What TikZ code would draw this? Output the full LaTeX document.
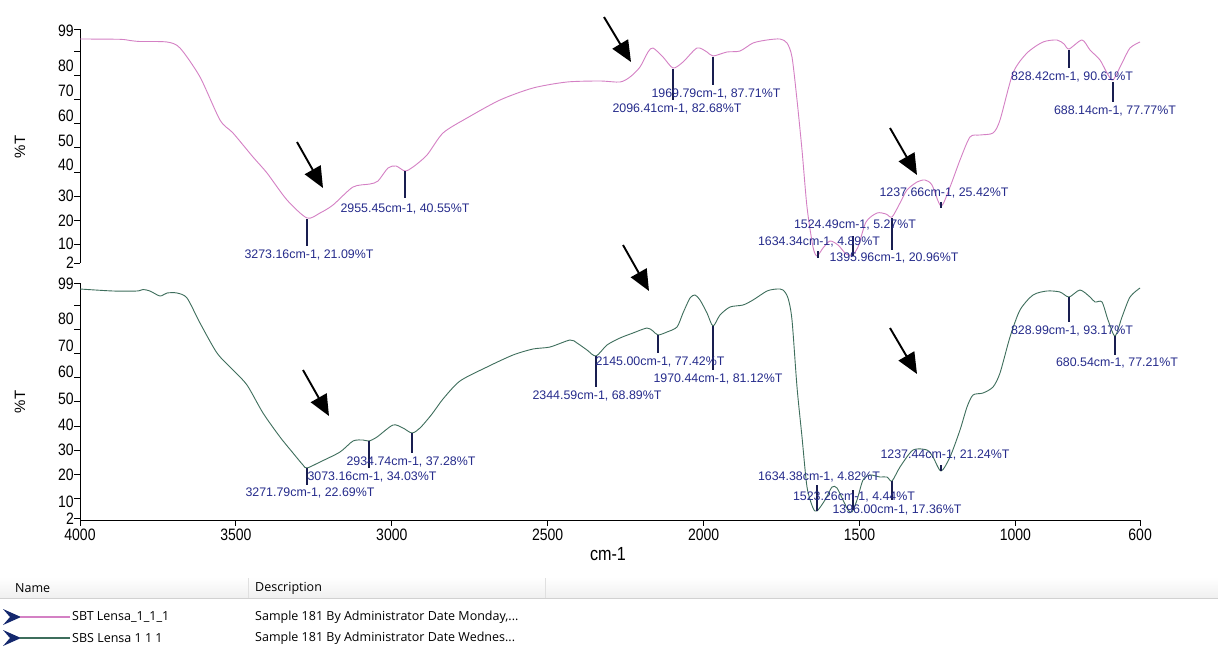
\documentclass[tikz,border=0pt]{standalone}
\usepackage{fontspec}
\usetikzlibrary{arrows.meta}
\setmainfont{Liberation Sans}
\newfontfamily\axf[FakeStretch=0.85]{Liberation Sans}
\newfontfamily\lgf{Open Sans}
\definecolor{pinkc}{RGB}{212,128,196}
\definecolor{greenc}{RGB}{62,110,92}
\definecolor{lblc}{RGB}{38,44,140}
\definecolor{mkc}{RGB}{25,30,80}
\definecolor{chev}{RGB}{20,40,110}
\tikzset{
  spec/.style={line width=0.9pt, line join=round},
  mk/.style={draw=mkc, line width=1.1pt},
  lab/.style={text=lblc, font=\fontsize{12.4}{13}\selectfont, inner sep=0pt},
  tk/.style={font=\axf\fontsize{16.5}{17}\selectfont, inner sep=0pt},
  bigarrow/.style={-{Triangle[length=21pt,width=18pt]}, line width=1.9pt},
  ax/.style={line width=1pt},
  lg/.style={font=\lgf\fontsize{12.5}{14}\selectfont, inner sep=0pt, anchor=west}
}
\begin{document}
\begin{tikzpicture}[x=1pt,y=-1pt]
\useasboundingbox[fill=white] (0,0) rectangle (1218,646);
% ---------- axes ----------
\draw[ax] (80,29) -- (80,263);
\draw[ax] (80,283) -- (80,520) -- (1141,520);
\foreach \v/\y in {99/29.3,90/51,80/75.5,70/99.5,60/123.5,50/147.5,40/172,30/196,20/220,10/244,2/263}
  \draw[ax] (74,\y) -- (80,\y);
\foreach \v/\y in {99/283,90/305,80/329,70/353,60/377,50/401.5,40/426,30/450,20/474,10/498.5,2/518}
  \draw[ax] (74,\y) -- (80,\y);
\foreach \t/\y in {99/31,80/66,70/91,60/116,50/141,40/165,30/196,20/221,10/244,2/263}
  \node[tk,anchor=east] (ty\t) at (74,\y) {\t};
\foreach \t/\y in {99/284,80/319,70/346,60/372,50/399,40/425,30/450,20/475,10/502,2/519}
  \node[tk,anchor=east] (by\t) at (74,\y) {\t};
\foreach \w in {4000,3500,3000,2500,2000,1500,1000,600}{
  \pgfmathsetmacro{\xx}{80+(4000-\w)*0.3118}
  \draw[ax] (\xx,520) -- (\xx,526);
  \node[tk] (xl\w) at (\xx,535) {\w};
}
\node[font=\axf\fontsize{19}{20}\selectfont, inner sep=0pt] (xt) at (608,554) {cm-1};
\node[font=\fontsize{15}{16}\selectfont, rotate=90, inner sep=0pt] (yt1) at (20,147) {\%T};
\node[font=\fontsize{15}{16}\selectfont, rotate=90, inner sep=0pt] (yt2) at (20,402) {\%T};
% ---------- top spectrum ----------
\draw[spec, pinkc] plot[smooth, tension=0.45] coordinates {
(80,39) (120,39.3) (130,40.5) (140,41.5) (167,42) (180,48) (200,77) (220,120) (233,133) (253,157) (267,173) (287,200) (307,218)
(320,213) (333,205) (353,187) (370,184) (378,181) (388,168) (396,166) (405,171) (413,167) (427,155) (443,133) (467,118)
(500,100) (533,88) (567,82) (600,81) (620,82) (630,77) (640,67) (648,52) (653,48) (663,57) (673,68) (683,62) (697,48)
(707,52) (713,56) (727,52) (740,51) (753,43) (767,40) (780,39) (787,43) (792,57) (797,100) (802,150) (807,207) (813,247)
(817,256) (823,248) (830,241) (838,245) (846,254) (852,255) (858,247) (866,222) (877,213) (886,214) (892,217) (900,203)
(907,190) (917,182) (925,180) (932,185) (941,206) (950,187) (960,160) (970,137) (980,135) (993,133) (1000,120) (1013,73)
(1027,53) (1043,42) (1057,40) (1064,44) (1069,49) (1082,40) (1090,50) (1100,60) (1107,73) (1113,80) (1122,63) (1130,48) (1140,42)};
% ---------- bottom spectrum ----------
\draw[spec, greenc] plot[smooth, tension=0.45] coordinates {
(80,289) (113,291) (137,291) (143,289.5) (150,291) (160,296) (167,293) (177,293) (187,298) (200,323) (217,353) (233,370)
(247,385) (263,413) (280,437) (293,453) (303,465) (307,468) (320,462) (340,452) (353,441) (363,440) (369,441) (377,437)
(393,425) (403,428) (412,433) (420,428) (432,414) (443,399) (460,381) (487,367) (513,355) (533,349) (550,347) (570,340)
(577,343) (587,350) (596,356) (607,345) (620,338) (633,333) (647,328) (653,331) (658,335) (667,332) (677,327) (683,313)
(690,298) (695,295) (700,300) (707,313) (713,326) (720,315) (730,307) (743,305) (753,300) (767,291) (777,289) (783,290)
(788,298) (792,320) (797,387) (802,437) (807,487) (813,508) (817,511) (825,500) (832,487) (837,488) (843,500) (848,510)
(852,512) (857,500) (863,480) (870,475) (880,477) (887,477) (892,481) (900,467) (913,450) (927,450) (933,457) (941,471)
(950,457) (960,430) (967,407) (973,395) (983,393) (993,387) (1000,373) (1010,337) (1020,310) (1033,295) (1047,291)
(1060,292) (1069,297) (1080,290) (1090,297) (1095,302) (1102,302) (1108,320) (1115,336) (1122,317) (1130,297) (1140,288)};
% ---------- top peak markers ----------
\draw[mk] (307,219) -- (307,246);
\draw[mk] (405,171) -- (405,198);
\draw[mk] (673,69) -- (673,100);
\draw[mk] (713,57) -- (713,85);
\draw[mk] (818,251) -- (818,258);
\draw[mk] (853,236) -- (853,256);
\draw[mk] (892,218) -- (892,250);
\draw[mk] (941,202) -- (941,208);
\draw[mk] (1069,50) -- (1069,68);
\draw[mk] (1113,82) -- (1113,102);
\node[lab] (t1) at (309,255) {3273.16cm-1, 21.09\%T};
\node[lab] (t2) at (405,209) {2955.45cm-1, 40.55\%T};
\node[lab] (t3) at (677,109) {2096.41cm-1, 82.68\%T};
\node[lab] (t4) at (716,94) {1969.79cm-1, 87.71\%T};
\node[lab] (t5) at (819,242) {1634.34cm-1, 4.89\%T};
\node[lab] (t6) at (855,225) {1524.49cm-1, 5.27\%T};
\node[lab] (t7) at (894,258) {1395.96cm-1, 20.96\%T};
\node[lab] (t8) at (944,193) {1237.66cm-1, 25.42\%T};
\node[lab] (t9) at (1072,77) {828.42cm-1, 90.61\%T};
\node[lab] (t10) at (1115,111) {688.14cm-1, 77.77\%T};
% ---------- bottom peak markers ----------
\draw[mk] (307,468) -- (307,485);
\draw[mk] (369,441) -- (369,468);
\draw[mk] (412,433) -- (412,453);
\draw[mk] (596,356) -- (596,387);
\draw[mk] (658,335) -- (658,353);
\draw[mk] (713,326) -- (713,370);
\draw[mk] (817,485) -- (817,511);
\draw[mk] (853,490) -- (853,510);
\draw[mk] (892,481) -- (892,500);
\draw[mk] (941,465) -- (941,471);
\draw[mk] (1069,297) -- (1069,322);
\draw[mk] (1115,336) -- (1115,355);
\node[lab] (b1) at (310,493) {3271.79cm-1, 22.69\%T};
\node[lab] (b2) at (372,477) {3073.16cm-1, 34.03\%T};
\node[lab] (b3) at (411,462) {2934.74cm-1, 37.28\%T};
\node[lab] (b4) at (597,396) {2344.59cm-1, 68.89\%T};
\node[lab] (b5) at (660,362) {2145.00cm-1, 77.42\%T};
\node[lab] (b6) at (718,379) {1970.44cm-1, 81.12\%T};
\node[lab] (b7) at (819,477) {1634.38cm-1, 4.82\%T};
\node[lab] (b8) at (854,497) {1523.26cm-1, 4.44\%T};
\node[lab] (b9) at (897,510) {1396.00cm-1, 17.36\%T};
\node[lab] (b10) at (945,455) {1237.44cm-1, 21.24\%T};
\node[lab] (b11) at (1072,331) {828.99cm-1, 93.17\%T};
\node[lab] (b12) at (1117,363) {680.54cm-1, 77.21\%T};
% ---------- arrows ----------
\coordinate (a1s) at (297,142); \coordinate (a1e) at (323,188);
\coordinate (a2s) at (604,17);  \coordinate (a2e) at (631,62);
\coordinate (a3s) at (890,128); \coordinate (a3e) at (917,175);
\coordinate (a4s) at (303,370); \coordinate (a4e) at (329,416);
\coordinate (a5s) at (623,245); \coordinate (a5e) at (649,291);
\coordinate (a6s) at (890,328); \coordinate (a6e) at (917,374);
\foreach \i in {1,...,6} \draw[bigarrow] (a\i s) -- (a\i e);
% ---------- legend ----------
\shade[top color=white, bottom color=black!6] (0,577) rectangle (1218,598);
\draw[black!18] (0,598) -- (1218,598);
\draw[black!12] (248,578) -- (248,598);
\draw[black!12] (545,578) -- (545,598);
\node[lg] (hn) at (15,588) {Name};
\node[lg] (hd) at (255,588) {Description};
\fill[chev] (3,609) -- (21,617) -- (3,625) -- (10,617) -- cycle;
\draw[pinkc, line width=1.6pt] (20,617) -- (70,617);
\node[lg] (n1) at (72,617) {SBT Lensa\_1\_1\_1};
\node[lg] (d1) at (255,617) {Sample 181 By Administrator Date Monday,...};
\fill[chev] (3,630) -- (21,638) -- (3,646) -- (10,638) -- cycle;
\draw[greenc, line width=1.6pt] (20,638) -- (70,638);
\node[lg] (n2) at (72,638) {SBS Lensa 1 1 1};
\node[lg] (d2) at (255,638) {Sample 181 By Administrator Date Wednes...};
\end{tikzpicture}
\end{document}
